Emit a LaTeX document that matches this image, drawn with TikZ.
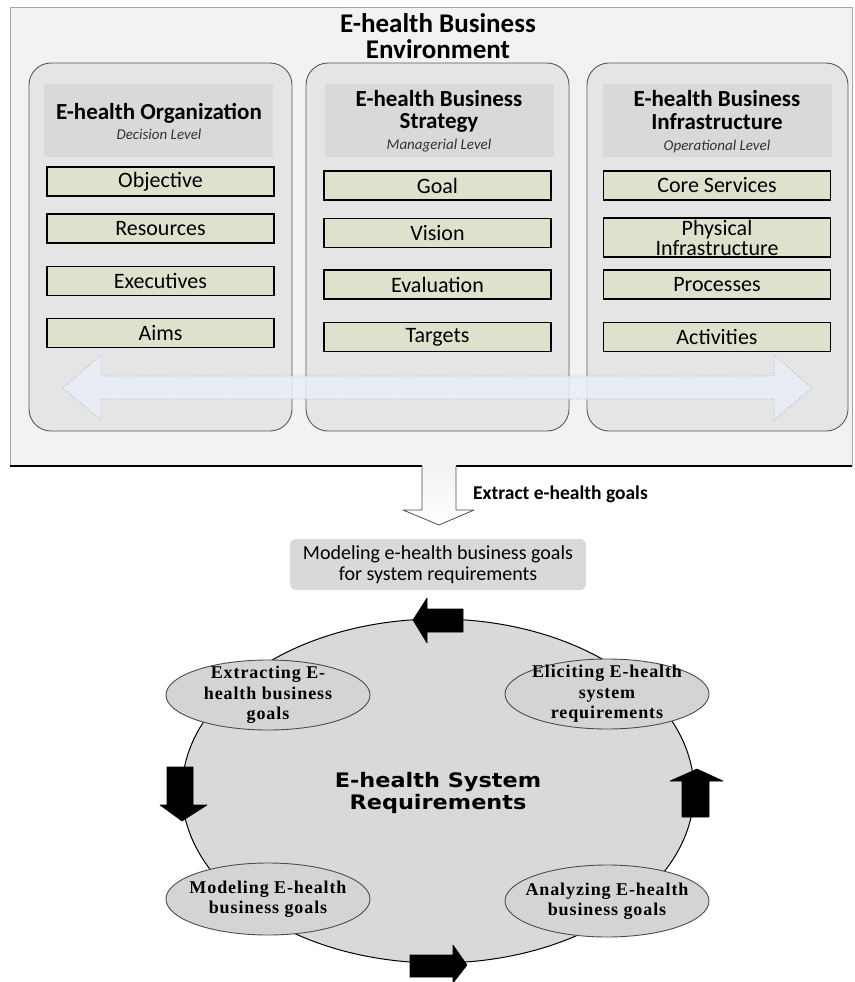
\documentclass[tikz,border=0pt]{standalone}
\usepackage{fontspec}
\setmainfont{Carlito}
\newfontfamily\cycleserif[LetterSpace=5]{Liberation Serif}
\newfontfamily\heavysans[FakeStretch=1.12]{DejaVu Sans}
\usetikzlibrary{shapes.geometric}

\definecolor{envfill}{RGB}{242,242,242}
\definecolor{panelfill}{RGB}{229,229,229}
\definecolor{headfill}{RGB}{217,217,217}
\definecolor{itemfill}{RGB}{221,226,204}
\definecolor{flowblue}{RGB}{232,238,248}
\definecolor{cyclefill}{RGB}{217,217,217}
\definecolor{stepfill}{RGB}{212,212,212}

\tikzset{
  panelbox/.style={draw=black!65, fill=panelfill, rounded corners=22pt, line width=0.9pt},
  headbox/.style={fill=headfill, inner sep=0pt, minimum width=229pt, minimum height=73pt},
  itembox/.style={draw=black, fill=itemfill, line width=1.2pt, inner sep=0pt,
    minimum width=227pt, minimum height=29pt, align=center,
    font=\fontsize{22}{19}\selectfont},
  titletext/.style={font=\fontsize{27}{28}\selectfont\bfseries, inner sep=0pt},
  headtext/.style={font=\fontsize{23}{23}\selectfont\bfseries, inner sep=0pt},
  leveltext/.style={font=\fontsize{15}{15}\selectfont\itshape, text=black!80, inner sep=0pt},
  stepellipse/.style={ellipse, draw=black!70, fill=stepfill, line width=0.9pt,
    minimum width=204pt, minimum height=70pt, inner sep=0pt},
  steptext/.style={align=center, inner sep=0pt,
    font=\cycleserif\bfseries\fontsize{18}{20.5}\selectfont},
  blockarrow/.style={fill=black, draw=black, line width=0.6pt, line join=round},
}

\begin{document}
\begin{tikzpicture}[x=1pt, y=-1pt]
\path[use as bounding box] (0,0) rectangle (854,982);

% ---------- business environment frame ----------
\fill[envfill] (10,7) rectangle (852,466);
\draw[gray!70, line width=0.8pt] (10,466) -- (10,7) -- (852,7) -- (852,466);
\draw[black, line width=1.2pt] (10,466) -- (422,466);
\draw[black, line width=1.2pt] (456,466) -- (852,466);

\node[titletext] (envtitle1) at (438,23) {E-health Business};
\node[titletext] (envtitle2) at (438,49) {Environment};

% ---------- three columns ----------
\draw[panelbox] (29,63) rectangle (292,431);
\draw[panelbox] (306,63) rectangle (569,431);
\draw[panelbox] (587,63) rectangle (848,431);

\node[headbox] (orghead) at (158.5,120.5) {};
\node[headbox] (strhead) at (439,120.5) {};
\node[headbox] (infhead) at (717.5,120.5) {};

\node[headtext] (orgname) at (159,113) {E-health Organization};
\node[leveltext] (orglevel) at (159,134) {Decision Level};

\node[headtext] (strname1) at (439,99) {E-health Business};
\node[headtext] (strname2) at (439,123) {Strategy};
\node[leveltext] (strlevel) at (439,146) {Managerial Level};

\node[headtext] (infname1) at (717,99) {E-health Business};
\node[headtext] (infname2) at (717,122) {Infrastructure};
\node[leveltext] (inflevel) at (717,146) {Operational Level};

% column items
\node[itembox] (objective) at (160.5,181.5) {Objective};
\node[itembox] (resources) at (160.5,228.5) {Resources};
\node[itembox] (executives) at (160.5,281) {Executives};
\node[itembox] (aims) at (160.5,333) {Aims};

\node[itembox] (goal) at (437.5,185.5) {Goal};
\node[itembox] (vision) at (437.5,233) {Vision};
\node[itembox] (evaluation) at (437.5,284.5) {Evaluation};
\node[itembox] (targets) at (437.5,337) {Targets};

\node[itembox] (core) at (717,185.5) {Core Services};
\node[itembox, minimum height=39pt, font=\fontsize{22}{20}\selectfont] (physical) at (717,237.5) {Physical\\Infrastructure};
\node[itembox] (processes) at (717,284.5) {Processes};
\node[itembox] (activities) at (717,337) {Activities};

% two-way flow across the columns
\draw[gray!70, dotted, line width=0.8pt, fill=flowblue, fill opacity=0.85]
  (63,388) -- (101,355) -- (101,376) -- (774,376) -- (774,355) -- (812,388)
  -- (774,420) -- (774,399) -- (101,399) -- (101,420) -- cycle;

% ---------- extraction arrow ----------
\shade[top color=envfill, bottom color=white]
  (422,464) -- (422,510) -- (403,510) -- (439,525) -- (474,510) -- (456,510) -- (456,464) -- cycle;
\draw[gray!60!black, line width=0.8pt, line join=round]
  (422,466) -- (422,510) -- (403,510) -- (439,525) -- (474,510) -- (456,510) -- (456,466);
\node[anchor=west, inner sep=0pt, font=\fontsize{19.5}{20}\selectfont\bfseries] (extract) at (473,494) {Extract e-health goals};

% ---------- modelling box ----------
\node[fill=headfill, rounded corners=6pt, minimum width=296pt, minimum height=51pt,
  inner sep=0pt, align=center, font=\fontsize{20}{21}\selectfont] (modelbox) at (438,564.5)
  {Modeling e-health business goals\\for system requirements};

% ---------- requirements cycle ----------
\node[ellipse, draw=black, fill=cyclefill, line width=1pt, minimum width=512pt,
  minimum height=344pt, inner sep=0pt] (cycle) at (438,791) {};
\node[align=center, inner sep=0pt, font=\heavysans\bfseries\fontsize{20}{22}\selectfont]
  (cyclename) at (438,793) {E-health System\\Requirements};

\node[stepellipse] (extracting) at (268,695) {};
\node[steptext] (extractingtext) at (extracting) {Extracting E-\\health business\\goals};
\node[stepellipse] (eliciting) at (607,694) {};
\node[steptext] (elicitingtext) at (eliciting) {Eliciting E-health\\system\\requirements};
\node[stepellipse, minimum height=72pt] (modeling) at (268,899) {};
\node[steptext] (modelingtext) at (modeling) {Modeling E-health\\business goals};
\node[stepellipse, minimum height=72pt] (analyzing) at (607,901) {};
\node[steptext] (analyzingtext) at (analyzing) {Analyzing E-health\\business goals};

% cycle direction arrows
\draw[blockarrow] (413,620) -- (427,598) -- (427,609) -- (463,609) -- (463,632) -- (427,632) -- (427,643) -- cycle;
\draw[blockarrow] (182,821) -- (160,805) -- (167,805) -- (167,767) -- (193,767) -- (193,805) -- (207,805) -- cycle;
\draw[blockarrow] (697,769) -- (723,781) -- (709,781) -- (709,817) -- (682,817) -- (682,781) -- (670,781) -- cycle;
\draw[blockarrow] (467,965) -- (453,983) -- (453,977) -- (410,977) -- (410,955) -- (453,955) -- (453,945) -- cycle;

\end{tikzpicture}
\end{document}
